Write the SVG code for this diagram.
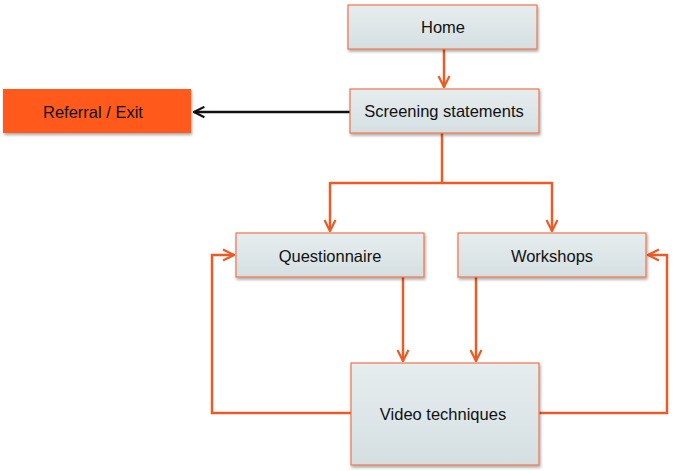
<svg xmlns="http://www.w3.org/2000/svg" width="675" height="471" viewBox="0 0 675 471">
<defs>
<linearGradient id="g" x1="0" y1="0" x2="0" y2="1">
<stop offset="0" stop-color="#E6EDEF"/>
<stop offset="1" stop-color="#D5DFE2"/>
</linearGradient>
<filter id="sh" x="-10%" y="-10%" width="120%" height="130%">
<feDropShadow dx="1" dy="2" stdDeviation="1.5" flood-color="#000" flood-opacity="0.35"/>
</filter>
<marker id="ao" viewBox="0 0 10 10" refX="9" refY="5" markerWidth="5.5" markerHeight="5.5" orient="auto" markerUnits="strokeWidth">
<path d="M1,1 L9,5 L1,9" fill="none" stroke="#EE5A24" stroke-width="1.6"/>
</marker>
<marker id="ab" viewBox="0 0 10 10" refX="9" refY="5" markerWidth="5" markerHeight="5" orient="auto" markerUnits="strokeWidth">
<path d="M1,1 L9,5 L1,9" fill="none" stroke="#111" stroke-width="1.6"/>
</marker>
</defs>
<style>
.box{fill:url(#g);stroke:#F0764A;stroke-width:1.2;filter:url(#sh)}
.t{font-family:"Liberation Sans",Arial,sans-serif;font-size:16.5px;fill:#111;text-anchor:middle;dominant-baseline:central}
.c{fill:none;stroke:#EE5A24;stroke-width:2.5}
</style>
<rect width="675" height="471" fill="#fff"/>
<g id="connectors">
<line class="c" x1="444" y1="49" x2="444" y2="87" marker-end="url(#ao)"/>
<polyline class="c" points="442,133 442,183"/>
<polyline class="c" points="330,183 552,183"/>
<polyline class="c" points="330,182 330,231" marker-end="url(#ao)"/>
<polyline class="c" points="552,182 552,231" marker-end="url(#ao)"/>
<line class="c" x1="403" y1="277" x2="403" y2="361" marker-end="url(#ao)"/>
<line class="c" x1="476" y1="277" x2="476" y2="361" marker-end="url(#ao)"/>
<polyline class="c" points="351,413 212,413 212,255 234,255" marker-end="url(#ao)"/>
<polyline class="c" points="539,413 667,413 667,255 648,255" marker-end="url(#ao)"/>
<line x1="350" y1="112" x2="194" y2="112" stroke="#111" stroke-width="2.6" marker-end="url(#ab)"/>
</g>
<g id="home"><rect class="box" x="348" y="5" width="189" height="44"/><text class="t" x="443" y="27">Home</text></g>
<g id="screening"><rect class="box" x="350" y="89" width="189" height="44"/><text class="t" x="444" y="111">Screening statements</text></g>
<g id="referral"><rect x="3" y="89" width="188" height="44" fill="#FF5A1C" filter="url(#sh)"/><text class="t" x="93" y="112">Referral / Exit</text></g>
<g id="questionnaire"><rect class="box" x="236" y="233" width="188" height="44"/><text class="t" x="330" y="256">Questionnaire</text></g>
<g id="workshops"><rect class="box" x="458" y="233" width="188" height="44"/><text class="t" x="552" y="256">Workshops</text></g>
<g id="video"><rect class="box" x="351" y="363" width="188" height="102"/><text class="t" x="443" y="414">Video techniques</text></g>
</svg>
